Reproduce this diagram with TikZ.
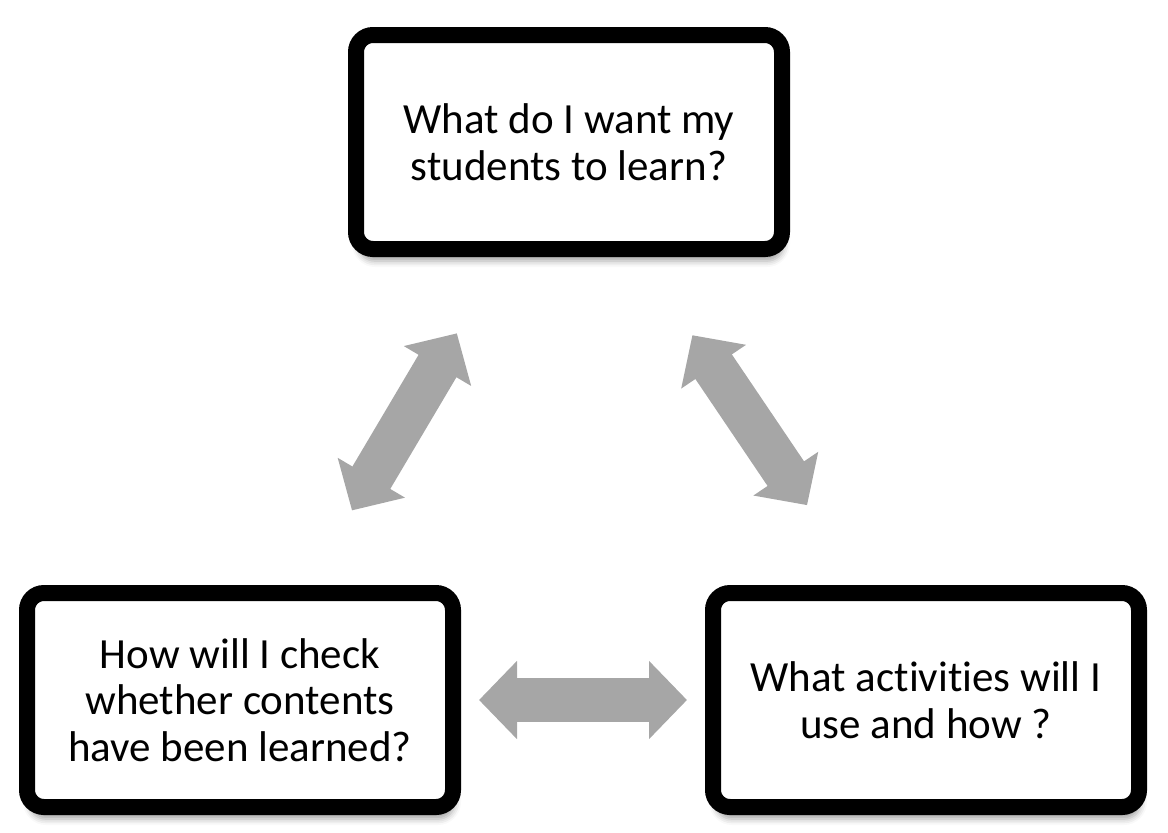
\documentclass[tikz,border=0pt]{standalone}
\usepackage{fontspec}
\setmainfont{Carlito}[Ligatures=CommonOff]
\usetikzlibrary{arrows.meta,calc,shadows.blur}

\definecolor{arrowgray}{RGB}{166,166,166}

\tikzset{
  question/.style={draw=black, line width=8pt, rounded corners=8.5pt, fill=white,
    minimum width=213pt, minimum height=107pt, outer sep=0pt, inner sep=0pt,
    align=center, font=\fontsize{21.5}{23.3}\selectfont,
    blur shadow={shadow xshift=1pt, shadow yshift=-6pt,
      shadow blur radius=3pt, shadow opacity=35}},
  twoway/.style={arrowgray, line width=22pt,
    {Triangle[width=38pt,length=19pt]}-{Triangle[width=38pt,length=19pt]}}
}

\begin{document}
\begin{tikzpicture}[x=0.5pt,y=-0.5pt]
\useasboundingbox (0,0) rectangle (1168,832);

% STEP 1: Place the three question boxes.
\node[question] (learn) at (569,142) {What do I want my\\students to learn?};
\node[question] (check) at (240,700) {How will I check\\whether contents\\have been learned?};
\node[question] (activ) at (926,700) {What activities will I\\use and how ?};

% STEP 2: Points on the box borders where the slanted arrows aim.
\coordinate (learnL) at ($(learn.south west)!0.354!(learn.south east)$);
\coordinate (learnR) at ($(learn.south west)!0.653!(learn.south east)$);
\coordinate (checkT) at ($(check.north west)!0.648!(check.north east)$);
\coordinate (activT) at ($(activ.north west)!0.36!(activ.north east)$);

% STEP 3: Draw the two-way arrows between the boxes.
\draw[twoway, shorten <=49pt, shorten >=48pt] (learnL) -- (checkT);
\draw[twoway, shorten <=52pt, shorten >=53pt] (learnR) -- (activT);
\draw[twoway, shorten <=13pt, shorten >=13pt] (check.east) -- (activ.west);

\end{tikzpicture}
\end{document}
